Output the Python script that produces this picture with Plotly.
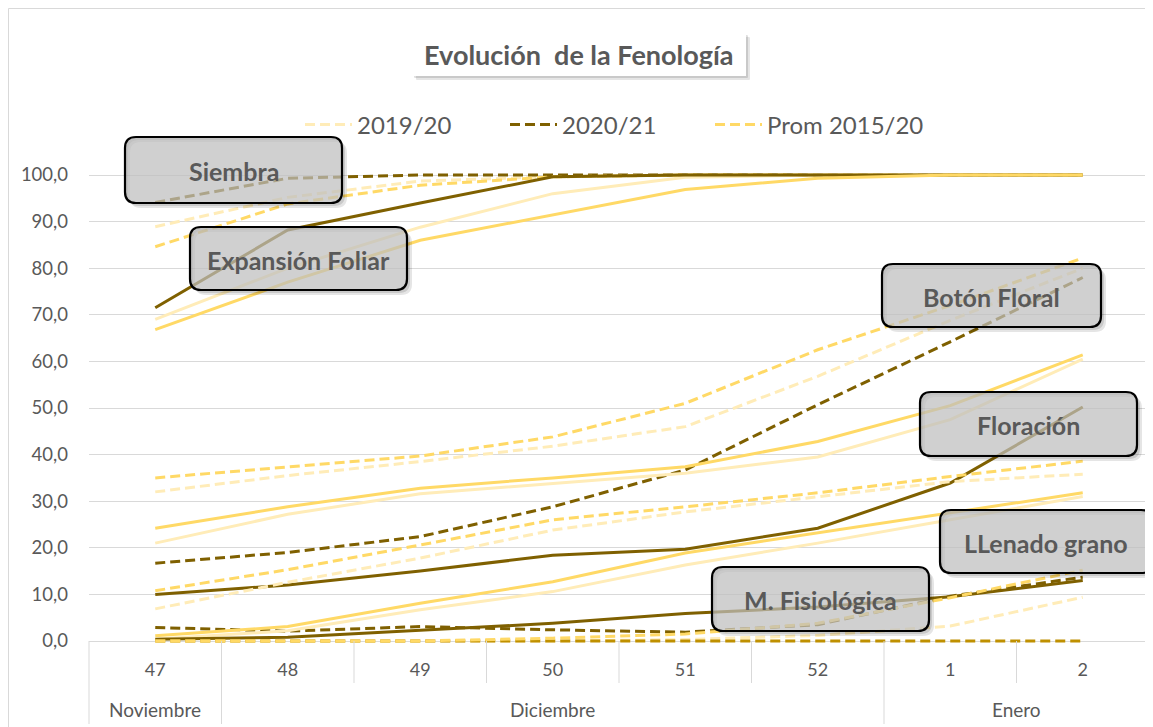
import plotly.graph_objects as go

# ---------------- data ----------------
weeks = ["47", "48", "49", "50", "51", "52", "1", "2"]
months = ["Noviembre", "Diciembre", "Diciembre", "Diciembre", "Diciembre", "Diciembre", "Enero", "Enero"]
seasons = ["2019/20", "2020/21", "Prom 2015/20"]

siembra_1920 = [88.9, 95.2, 98.7, 99.6, 100, 100, 100, 100]
siembra_2021 = [94.1, 99.3, 100, 100, 100, 100, 100, 100]
siembra_prom = [84.6, 93.8, 97.8, 99.6, 100, 100, 100, 100]

expansion_1920 = [69.0, 80.0, 88.8, 96.0, 99.5, 100, 100, 100]
expansion_2021 = [71.5, 88.2, 94.0, 99.6, 100, 100, 100, 100]
expansion_prom = [66.8, 77.0, 86.0, 91.4, 96.9, 99.3, 100, 100]

boton_1920 = [32.0, 35.5, 38.5, 41.8, 46.0, 56.8, 68.8, 80.0]
boton_2021 = [16.7, 19.0, 22.4, 28.8, 36.7, 50.7, 64.2, 78.0]
boton_prom = [35.0, 37.3, 39.7, 43.8, 51.0, 62.5, 72.0, 82.2]

floracion_1920 = [21.0, 27.2, 31.6, 33.8, 36.0, 39.5, 47.5, 60.5]
floracion_2021 = [10.0, 12.0, 15.0, 18.4, 19.7, 24.2, 33.9, 50.2]
floracion_prom = [24.2, 28.8, 32.8, 35.0, 37.4, 42.8, 50.5, 61.4]

llenado_1920 = [6.9, 12.6, 17.8, 23.8, 27.7, 31.0, 34.2, 35.8]
llenado_2021 = [2.9, 2.1, 3.1, 2.4, 1.9, 3.5, 9.6, 13.7]
llenado_prom = [10.8, 15.3, 20.6, 26.0, 28.8, 31.8, 35.3, 38.6]

mfisio_1920 = [0.4, 2.2, 6.7, 10.6, 16.3, 21.0, 26.0, 31.0]
mfisio_2021 = [0.4, 0.8, 2.3, 3.8, 5.9, 7.3, 9.5, 13.0]
mfisio_prom = [1.1, 3.1, 8.1, 12.7, 18.9, 23.2, 27.6, 31.8]

etapa7_1920 = [0, 0, 0, 0, 0.3, 1.2, 3.2, 9.4]
etapa7_2021 = [0, 0, 0, 0, 0, 0, 0, 0]
etapa7_prom = [0, 0, 0, 0.6, 1.5, 3.8, 9.3, 15.2]

stages = [
    ("Siembra", "dash", [siembra_1920, siembra_2021, siembra_prom]),
    ("Expansión Foliar", "solid", [expansion_1920, expansion_2021, expansion_prom]),
    ("Botón Floral", "dash", [boton_1920, boton_2021, boton_prom]),
    ("Floración", "solid", [floracion_1920, floracion_2021, floracion_prom]),
    ("LLenado grano", "dash", [llenado_1920, llenado_2021, llenado_prom]),
    ("M. Fisiológica", "solid", [mfisio_1920, mfisio_2021, mfisio_prom]),
    ("Etapa 7", "dash", [etapa7_1920, etapa7_2021, etapa7_prom]),
]

label_texts = ["Siembra", "Expansión Foliar", "Botón Floral", "Floración", "LLenado grano", "M. Fisiológica"]

# ---------------- styling ----------------
colors = {"2019/20": "#FFECB8", "2020/21": "#7F6000", "Prom 2015/20": "#FFD966"}
color_override = {("Etapa 7", "2020/21"): "#BF9000"}
TXT = "#595959"
FONT = "Lato"
OFF = 8  # page body margin of the html page
W, H = 1153 - OFF, 727 - OFF
ML, MR, MT, MB = 89 - OFF, 4, 170 - OFF, 83
PW, PH = W - ML - MR, H - MT - MB
PXV = 4.66  # px per y unit
ZERO = 641 - OFF
y_lo = -((H - MB) - ZERO) / PXV
y_hi = (ZERO - MT) / PXV


def X(px):  # page pixel -> paper
    return (px - OFF - ML) / PW


def Y(py):  # page pixel -> paper
    return (H - MB - (py - OFF)) / PH


def rrect(x0, y0, x1, y1, r, reverse=False):
    pts = [("M", [(x0 + r, y0)]), ("L", [(x1 - r, y0)]), ("Q", [(x1, y0), (x1, y0 + r)]),
           ("L", [(x1, y1 - r)]), ("Q", [(x1, y1), (x1 - r, y1)]), ("L", [(x0 + r, y1)]),
           ("Q", [(x0, y1), (x0, y1 - r)]), ("L", [(x0, y0 + r)]), ("Q", [(x0, y0), (x0 + r, y0)])]
    if reverse:
        pts = [("M", [(x0 + r, y0)]), ("Q", [(x0, y0), (x0, y0 + r)]), ("L", [(x0, y1 - r)]),
               ("Q", [(x0, y1), (x0 + r, y1)]), ("L", [(x1 - r, y1)]), ("Q", [(x1, y1), (x1, y1 - r)]),
               ("L", [(x1, y0 + r)]), ("Q", [(x1, y0), (x1 - r, y0)]), ("L", [(x0 + r, y0)])]
    s = []
    for cmd, ps in pts:
        s.append(cmd + " " + " ".join(f"{X(a):.5f},{Y(b):.5f}" for a, b in ps))
    return " ".join(s) + " Z"


fig = go.Figure()
for si, (stage, dash, series) in enumerate(stages):
    for season, vals in zip(seasons, series):
        tr = dict(
            x=weeks, y=vals, mode="lines", name=season,
            legendgroup=season, showlegend=(si == 0),
            line=dict(color=color_override.get((stage, season), colors[season]), width=3,
                      dash="10px,5px" if dash == "dash" else "solid"),
            hoverinfo="skip",
        )
        if si == 0 and season == seasons[-1]:
            tr["legendwidth"] = 190
        fig.add_trace(go.Scatter(**tr))

shapes = []
annotations = []

# outer chart border (left & top)
shapes.append(dict(type="line", xref="paper", yref="paper", x0=X(8.5), x1=X(8.5), y0=Y(8.5), y1=Y(740),
                   line=dict(color="#d9d9d9", width=1)))
shapes.append(dict(type="line", xref="paper", yref="paper", x0=X(8.5), x1=X(1165), y0=Y(8.5), y1=Y(8.5),
                   line=dict(color="#d9d9d9", width=1)))

# category dividers
n = len(weeks)
for b in range(n + 1):
    xb = b / n
    is_month = b == 0 or b == n or months[b - 1] != months[b]
    shapes.append(dict(type="line", xref="paper", yref="paper", x0=xb, x1=xb,
                       y0=Y(641), y1=Y(724 if is_month else 683),
                       line=dict(color="#d9d9d9", width=1)))

# month labels
groups = []
for i, m in enumerate(months):
    if groups and groups[-1][0] == m:
        groups[-1][1].append(i)
    else:
        groups.append((m, [i]))
for m, idx in groups:
    c = (sum(idx) / len(idx) + 0.5) / n
    annotations.append(dict(xref="paper", yref="paper", x=c, y=Y(709), text=m, showarrow=False,
                            font=dict(family=FONT, size=19, color=TXT), xanchor="center", yanchor="middle"))

# title box
shapes.append(dict(type="path", xref="paper", yref="paper",
                   path=rrect(416, 37, 750, 80, 1) + " " + rrect(412, 33, 746, 76, 1, reverse=True),
                   fillcolor="rgba(0,0,0,0.10)", line=dict(width=0), layer="above"))
shapes.append(dict(type="path", xref="paper", yref="paper",
                   path=rrect(414, 35, 748, 78, 1) + " " + rrect(412, 33, 746, 76, 1, reverse=True),
                   fillcolor="rgba(0,0,0,0.12)", line=dict(width=0), layer="above"))
shapes.append(dict(type="rect", xref="paper", yref="paper", x0=X(412), x1=X(746), y0=Y(33), y1=Y(76),
                   fillcolor="white", line=dict(width=0), layer="above"))
annotations.append(dict(xref="paper", yref="paper", x=X(579), y=Y(55), text="<b>Evolución\u00a0 de la Fenología</b>",
                        showarrow=False, font=dict(family=FONT, size=27, color=TXT),
                        xanchor="center", yanchor="middle"))

# stage label boxes (page pixel boxes)
boxes = [
    (125, 137, 342, 203),
    (190, 227, 407, 290),
    (882, 264, 1101, 327),
    (920, 392, 1137, 456),
    (940, 510, 1152, 573),
    (712, 567, 929, 631),
]
for text, (x0, y0, x1, y1) in zip(label_texts, boxes):
    hole = rrect(x0, y0, x1, y1, 11, reverse=True)
    shapes.append(dict(type="path", xref="paper", yref="paper",
                       path=rrect(x0 + 5, y0 + 5, x1 + 5, y1 + 5, 11) + " " + hole,
                       fillcolor="rgba(0,0,0,0.10)", line=dict(width=0), layer="above"))
    shapes.append(dict(type="path", xref="paper", yref="paper",
                       path=rrect(x0 + 3, y0 + 3, x1 + 3, y1 + 3, 11) + " " + hole,
                       fillcolor="rgba(0,0,0,0.12)", line=dict(width=0), layer="above"))
    shapes.append(dict(type="path", xref="paper", yref="paper", path=rrect(x0, y0, x1, y1, 11),
                       fillcolor="rgba(190,190,190,0.72)", line=dict(color="black", width=2.2), layer="above"))
    annotations.append(dict(xref="paper", yref="paper", x=X((x0 + x1) / 2), y=Y((y0 + y1) / 2 + 1),
                            text=f"<b>{text}</b>", showarrow=False,
                            font=dict(family=FONT, size=25, color=TXT), xanchor="center", yanchor="middle"))

fig.update_layout(
    width=W, height=H,
    margin=dict(l=ML, r=MR, t=MT, b=MB, pad=0),
    paper_bgcolor="white", plot_bgcolor="white",
    separators=",.",
    font=dict(family=FONT, color=TXT),
    showlegend=True,
    legend=dict(orientation="h", x=X(300), xanchor="left", y=Y(125), yanchor="middle",
                font=dict(family=FONT, size=24, color=TXT), bgcolor="rgba(0,0,0,0)",
                entrywidth=143, entrywidthmode="pixels", itemwidth=47, traceorder="normal"),
    xaxis=dict(type="category", categoryorder="array", categoryarray=weeks, range=[-0.5, n - 0.5],
               showgrid=False, showline=False, zeroline=False, ticks="",
               tickfont=dict(family=FONT, size=18, color=TXT), ticklabelstandoff=13, fixedrange=True),
    yaxis=dict(range=[y_lo, y_hi], tickmode="array", tickvals=[0, 10, 20, 30, 40, 50, 60, 70, 80, 90, 100],
               tickformat=".1f", showgrid=True, gridcolor="#d9d9d9", gridwidth=1,
               zeroline=True, zerolinecolor="#d9d9d9", zerolinewidth=1, showline=False, ticks="",
               tickfont=dict(family=FONT, size=18.5, color=TXT), ticklabelstandoff=20, fixedrange=True),
    shapes=shapes, annotations=annotations,
)

fig.write_html("out.html")
